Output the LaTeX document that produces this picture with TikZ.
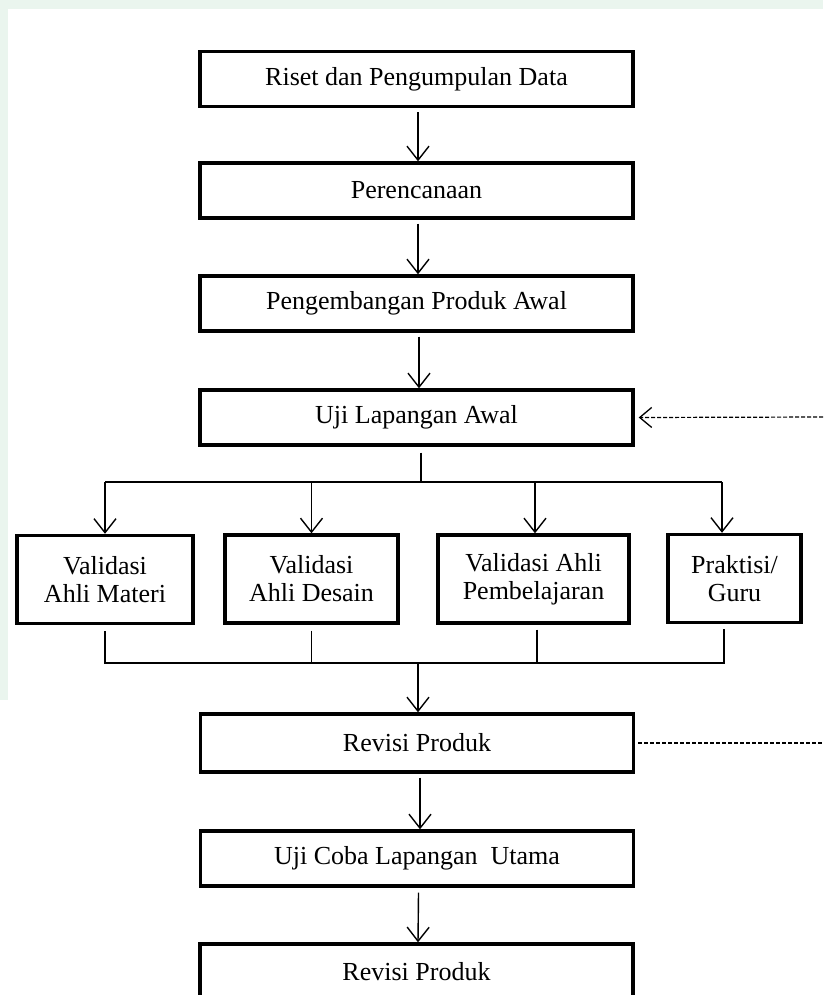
\documentclass[tikz,border=0pt]{standalone}
\usepackage{fontspec}
\setmainfont{Liberation Serif}
\usetikzlibrary{arrows.meta}
\definecolor{wmgreen}{RGB}{234,245,238}
\tikzset{
  box/.style={draw=black, line width=3.4pt, fill=white, align=center, inner sep=0pt,
    font=\fontsize{26}{28}\selectfont},
  mainbox/.style={box, minimum width=433pt, minimum height=55pt},
  subbox/.style={box, minimum height=88pt},
  conn/.style={line width=1.4pt},
  arr/.style={conn, -{Straight Barb[length=14pt,width=22pt,line width=1.4pt]}},
  dash line/.style={line width=1.2pt, dash pattern=on 4pt off 2pt}
}
\begin{document}
\begin{tikzpicture}[x=1pt,y=-1pt]
\useasboundingbox (0,0) rectangle (823,995);
\clip (0,0) rectangle (823,995);
\fill[white] (0,0) rectangle (823,995);
% faint watermark strips
\fill[wmgreen] (0,0) rectangle (823,9);
\fill[wmgreen] (0,0) rectangle (8,700);

% main column
\node[mainbox] (b1) at (416.5,79) {Riset dan Pengumpulan Data};
\node[mainbox] (b2) at (416.5,190.5) {Perencanaan};
\node[mainbox] (b3) at (416.5,303.5) {Pengembangan Produk Awal};
\node[mainbox] (b4) at (416.5,417.5) {Uji Lapangan Awal};

% validation boxes
\node[subbox, minimum width=176pt] (v1) at (105,579.5) {Validasi\\Ahli Materi};
\node[subbox, minimum width=173pt] (v2) at (311.5,579) {Validasi\\Ahli Desain};
\node[subbox, minimum width=191pt] (v3) at (533.5,579) {Validasi Ahli\\Pembelajaran};
\node[subbox, minimum width=133pt] (v4) at (734.5,578.5) {Praktisi/\\Guru};

\node[mainbox, minimum height=58pt] (r1) at (417,743) {Revisi Produk};
\node[mainbox] (u1) at (417,858.5) {Uji Coba Lapangan~ Utama};
\node[mainbox, minimum height=56pt] (r2) at (416.5,972) {Revisi Produk};

% right-side feedback ends
\coordinate (fbtop) at (823,417);
\coordinate (fbbot) at (823,743);
\coordinate (h1) at (421,482);
\coordinate (h2) at (418,663);

% main arrows
\draw[arr] ([xshift=1.5pt,yshift=-4pt]b1.south) -- ([xshift=1.5pt]b2.north);
\draw[arr] ([xshift=1.5pt,yshift=-4pt]b2.south) -- ([xshift=1.5pt]b3.north);
\draw[arr] ([xshift=2.5pt,yshift=-4pt]b3.south) -- ([xshift=2.5pt]b4.north);

% split to validation boxes
\draw[conn] ([xshift=4.5pt,yshift=-6pt]b4.south) -- (h1);
\draw[conn] (v1.north |- h1) -- ([xshift=-12.5pt]v4.north |- h1);
\draw[arr] (v1.north |- h1) -- (v1.north);
\draw[arr] (v2.north |- h1) -- (v2.north);
\draw[arr] ([xshift=1.5pt]v3.north |- h1) -- ([xshift=1.5pt]v3.north);
\draw[arr] ([xshift=-12.5pt]v4.north |- h1) -- ([xshift=-12.5pt]v4.north);

% merge to revision
\draw[conn] ([yshift=-6pt]v1.south) -- (v1.south |- h2) -- ([xshift=-10.5pt]v4.south |- h2) -- ([xshift=-10.5pt,yshift=-5pt]v4.south);
\draw[conn] ([yshift=-6pt]v2.south) -- (v2.south |- h2);
\draw[conn] ([xshift=3.5pt,yshift=-5pt]v3.south) -- ([xshift=3.5pt]v3.south |- h2);
\draw[arr] (h2) -- (h2 |- r1.north);

% lower arrows
\draw[arr] ([xshift=3pt,yshift=-4pt]r1.south) -- ([xshift=3pt]u1.north);
\draw[arr] ([xshift=1.5pt,yshift=-5pt]u1.south) -- ([xshift=1.5pt]r2.north);

% dashed feedback lines
\draw[dash line, -{Straight Barb[length=12pt,width=20pt,line width=1.3pt]}] (fbtop) -- ([xshift=4pt]b4.east);
\draw[dash line] ([xshift=3pt]r1.east) -- (fbbot);
\end{tikzpicture}
\end{document}
